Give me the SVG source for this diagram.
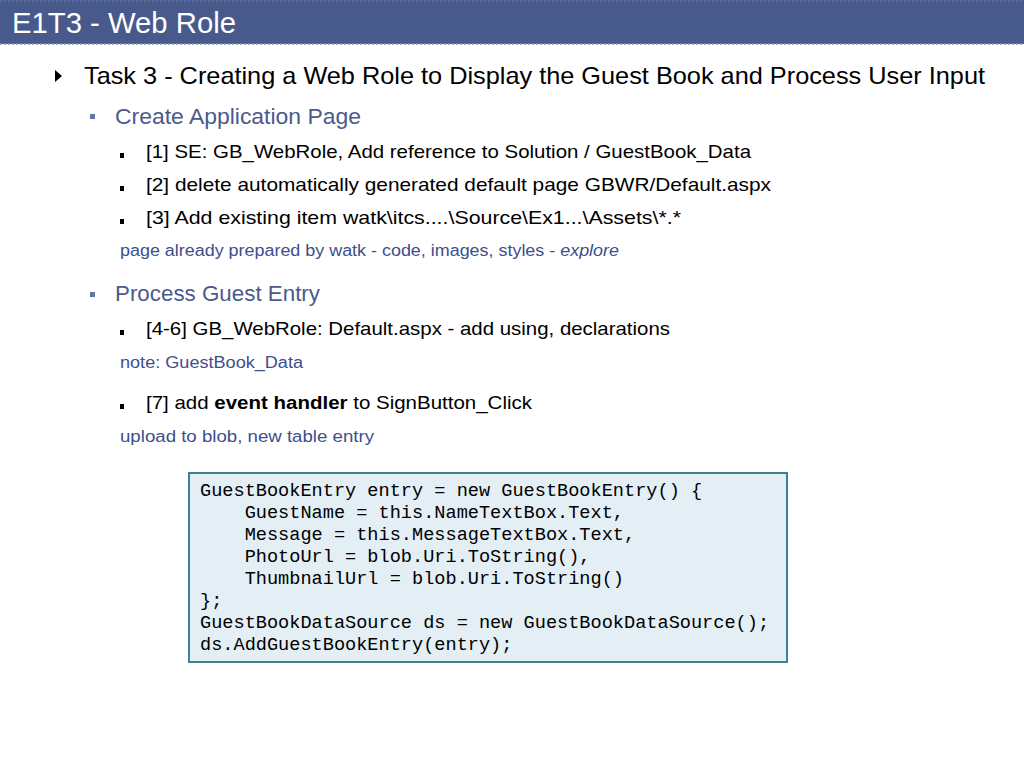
<svg xmlns="http://www.w3.org/2000/svg" width="1024" height="768" viewBox="0 0 1024 768">
<style>
.t{font-family:"Liberation Sans","Noto Sans",Arial,sans-serif}
.title{font-size:30px;fill:#ffffff}
.l1{font-size:24px;fill:#000000}
.l2{font-size:22px;fill:#4b5a8c}
.l3{font-size:19px;fill:#000000}
.note{font-size:16px;fill:#3d4f8c}
.code{font-family:"Liberation Mono","DejaVu Sans Mono",monospace;font-size:18.6px;fill:#000000}
.b2{fill:#6575a8}
.b3{fill:#000000}
</style>
<rect width="1024" height="768" fill="#ffffff"/>
<g id="header">
<rect x="0" y="0" width="1024" height="44" fill="#475a8b"/>
<line x1="0" y1="44" x2="1024" y2="44" stroke="#8a96b8" stroke-width="1.5" stroke-dasharray="2,2"/>
<line x1="0" y1="1" x2="1024" y2="1" stroke="#6a78a3" stroke-width="1" stroke-dasharray="2,2"/>
<text class="t title" x="12" y="33" textLength="224" lengthAdjust="spacingAndGlyphs">E1T3 - Web Role</text>
</g>
<g id="task">
<polygon points="55,70 62,76 55,82" fill="#000000"/>
<text class="t l1" x="84" y="84" textLength="901" lengthAdjust="spacingAndGlyphs">Task 3 - Creating a Web Role to Display the Guest Book and Process User Input</text>
</g>
<g id="create-app-page">
<rect class="b2" x="90" y="114" width="5" height="5"/>
<text class="t l2" x="115" y="124" textLength="246" lengthAdjust="spacingAndGlyphs">Create Application Page</text>
<rect class="b3" x="120" y="153" width="4" height="5"/>
<text class="t l3" x="146" y="158" textLength="605" lengthAdjust="spacingAndGlyphs">[1] SE: GB_WebRole, Add reference to Solution / GuestBook_Data</text>
<rect class="b3" x="120" y="186" width="4" height="5"/>
<text class="t l3" x="146" y="191" textLength="625" lengthAdjust="spacingAndGlyphs">[2] delete automatically generated default page GBWR/Default.aspx</text>
<rect class="b3" x="120" y="219" width="4" height="5"/>
<text class="t l3" x="146" y="224" textLength="535" lengthAdjust="spacingAndGlyphs">[3] Add existing item watk\itcs....\Source\Ex1...\Assets\*.*</text>
<text class="t note" x="120" y="256" textLength="499" lengthAdjust="spacingAndGlyphs">page already prepared by watk - code, images, styles - <tspan font-style="italic">explore</tspan></text>
</g>
<g id="process-guest-entry">
<rect class="b2" x="90" y="292" width="5" height="5"/>
<text class="t l2" x="115" y="301" textLength="205" lengthAdjust="spacingAndGlyphs">Process Guest Entry</text>
<rect class="b3" x="120" y="330" width="4" height="5"/>
<text class="t l3" x="146" y="335" textLength="524" lengthAdjust="spacingAndGlyphs">[4-6] GB_WebRole: Default.aspx - add using, declarations</text>
<text class="t note" x="120" y="368" textLength="183" lengthAdjust="spacingAndGlyphs">note: GuestBook_Data</text>
<rect class="b3" x="120" y="404" width="4" height="5"/>
<text class="t l3" x="146" y="409" textLength="386" lengthAdjust="spacingAndGlyphs">[7] add <tspan font-weight="bold">event handler</tspan> to SignButton_Click</text>
<text class="t note" x="120" y="442" textLength="254" lengthAdjust="spacingAndGlyphs">upload to blob, new table entry</text>
</g>
<g id="code-box">
<rect x="189" y="473" width="598" height="189" fill="#e3eff5" stroke="#3b8294" stroke-width="2"/>
<text class="code" xml:space="preserve" x="200" y="496">GuestBookEntry entry = new GuestBookEntry() {</text>
<text class="code" xml:space="preserve" x="200" y="518">    GuestName = this.NameTextBox.Text,</text>
<text class="code" xml:space="preserve" x="200" y="540">    Message = this.MessageTextBox.Text,</text>
<text class="code" xml:space="preserve" x="200" y="562">    PhotoUrl = blob.Uri.ToString(),</text>
<text class="code" xml:space="preserve" x="200" y="584">    ThumbnailUrl = blob.Uri.ToString()</text>
<text class="code" xml:space="preserve" x="200" y="606">};</text>
<text class="code" xml:space="preserve" x="200" y="628">GuestBookDataSource ds = new GuestBookDataSource();</text>
<text class="code" xml:space="preserve" x="200" y="650">ds.AddGuestBookEntry(entry);</text>
</g>
</svg>
